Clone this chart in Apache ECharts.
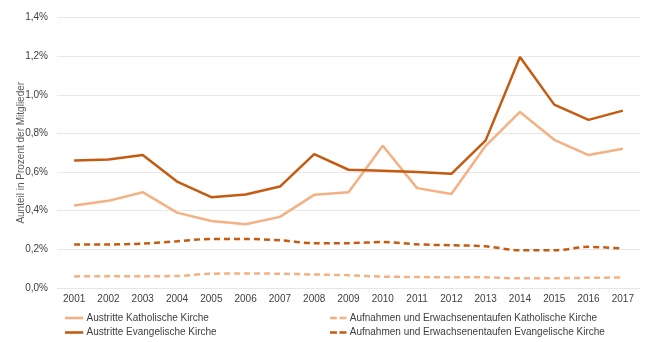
<!DOCTYPE html>
<html><head><meta charset="utf-8">
<script src="https://cdn.jsdelivr.net/npm/echarts@6/dist/echarts.min.js"></script>
<style>html,body{margin:0;padding:0;background:#fff}#c{width:650px;height:342px}</style>
</head><body><div id="c"></div>
<script>
var years = ['2001','2002','2003','2004','2005','2006','2007','2008','2009','2010','2011','2012','2013','2014','2015','2016','2017'];
var austrKath = [0.427,0.451,0.496,0.390,0.347,0.330,0.368,0.482,0.495,0.736,0.517,0.486,0.736,0.911,0.767,0.688,0.721];
var austrEv = [0.660,0.665,0.688,0.551,0.470,0.484,0.525,0.693,0.612,0.607,0.600,0.591,0.764,1.196,0.949,0.870,0.918];
var aufnKath = [0.060,0.061,0.061,0.062,0.074,0.075,0.074,0.070,0.066,0.059,0.057,0.055,0.055,0.050,0.050,0.053,0.054];
var aufnEv = [0.225,0.225,0.230,0.242,0.254,0.254,0.247,0.232,0.232,0.238,0.226,0.221,0.216,0.195,0.195,0.213,0.204];
var names = ['Austritte Katholische Kirche','Austritte Evangelische Kirche','Aufnahmen und Erwachsenentaufen Katholische Kirche','Aufnahmen und Erwachsenentaufen Evangelische Kirche'];
var light = '#F4B183', dark = '#C55A11';
var font = 'Liberation Sans, Arial, sans-serif';
var solidIcon = 'path://M0,0h21v3h-21z';
var dashIcon = 'path://M0,0h8v3h-8zM11,0h8v3h-8z';
function lg(name, left, top, icon, w, color){
  return {data:[{name:name, icon:icon, itemStyle:{color:color}}], left:left, top:top, itemWidth:w, itemHeight:2.6, itemGap:0,
    textStyle:{color:'#404040', fontSize:10, fontFamily:font, padding:[0,0,0,-3]}, padding:0, selectedMode:false};
}
var chart = echarts.init(document.getElementById('c'));
chart.setOption({
  animation:false,
  grid:{left:57, right:10, top:17.5, bottom:54, outerBoundsMode:'none', containLabel:false},
  legend:[lg(names[0],65,313,solidIcon,21,light), lg(names[1],65,327.5,solidIcon,21,dark),
          lg(names[2],330,313,dashIcon,19,light), lg(names[3],330,327.5,dashIcon,19,dark)],
  xAxis:{type:'category', data:years, boundaryGap:true,
    axisLine:{show:true, lineStyle:{color:'#e6e6e6'}}, axisTick:{show:false},
    axisLabel:{color:'#404040', fontSize:10, fontFamily:font, margin:6}},
  yAxis:{type:'value', min:0, max:1.4, interval:0.2,
    name:'Aunteil in Prozent der Mitglieder', nameLocation:'middle', nameGap:31, nameMoveOverlap:false,
    nameTextStyle:{color:'#595959', fontSize:10, fontFamily:font},
    axisLine:{show:false}, axisTick:{show:false},
    splitLine:{lineStyle:{color:'#e8e8e8'}},
    axisLabel:{color:'#404040', fontSize:10, fontFamily:font, margin:9,
      formatter:function(v){return v.toFixed(1).replace('.',',')+'%';}}},
  series:[
    {name:names[0], type:'line', data:austrKath, symbol:'none', lineStyle:{color:light, width:2.5}, itemStyle:{color:light}},
    {name:names[1], type:'line', data:austrEv, symbol:'none', lineStyle:{color:dark, width:2.5}, itemStyle:{color:dark}},
    {name:names[2], type:'line', data:aufnKath, symbol:'none', smooth:0.3, lineStyle:{color:light, width:2.5, type:[6,4]}, itemStyle:{color:light}},
    {name:names[3], type:'line', data:aufnEv, symbol:'none', smooth:0.3, lineStyle:{color:dark, width:2.5, type:[6,4]}, itemStyle:{color:dark}}
  ]
});
</script></body></html>
